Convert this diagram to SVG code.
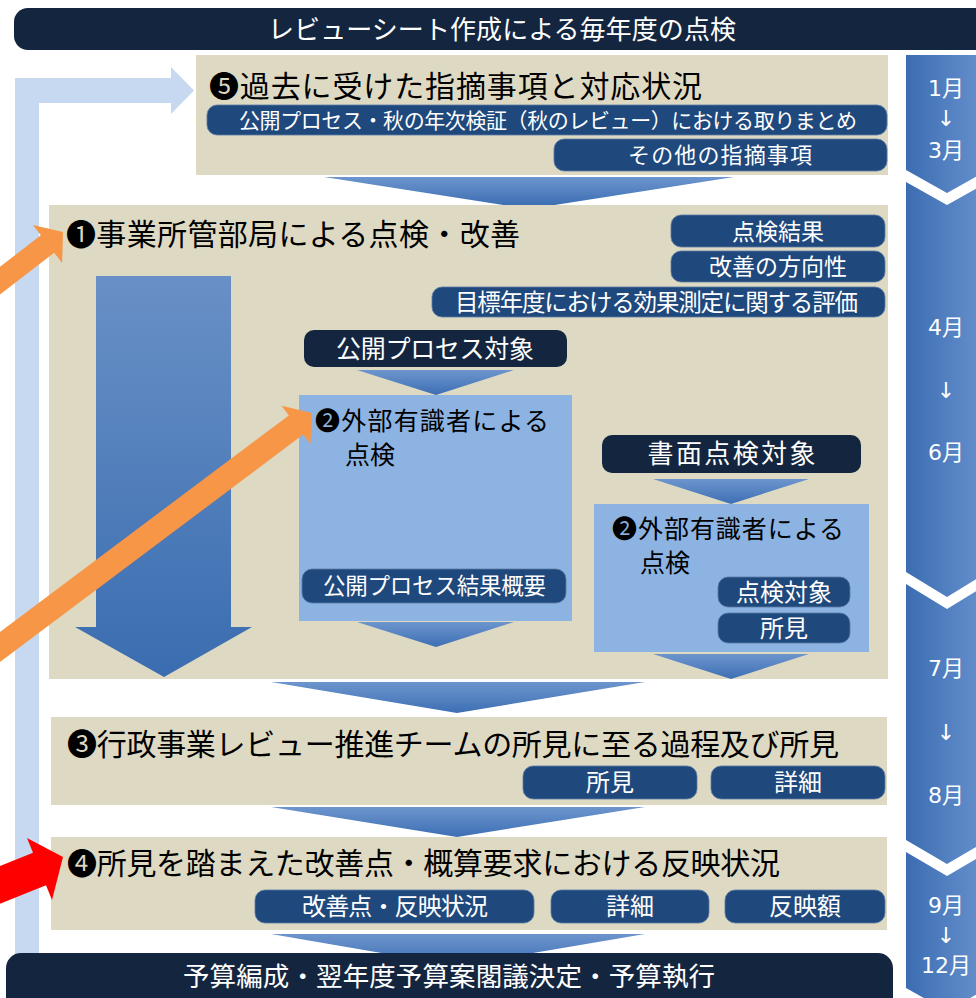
<svg xmlns="http://www.w3.org/2000/svg" width="976" height="998" viewBox="0 0 976 998">
<defs>
<linearGradient id="gChev" x1="0" y1="0" x2="0" y2="1"><stop offset="0" stop-color="#6d95cd"/><stop offset="1" stop-color="#3d6fb4"/></linearGradient>
<linearGradient id="gBig" x1="0" y1="0" x2="0" y2="1"><stop offset="0" stop-color="#6990c6"/><stop offset="1" stop-color="#3a6db0"/></linearGradient>
<linearGradient id="gTime" x1="0" y1="0" x2="1" y2="0"><stop offset="0" stop-color="#3c6db2"/><stop offset="1" stop-color="#6892ce"/></linearGradient>
<style>
.beige{fill:#ddd9c3}
.navy{fill:#14263f}
.pill{fill:#1f497d;stroke:#5b7aa5;stroke-width:0.8}
.lb{fill:#8db3e2}
.chev{fill:url(#gChev)}
.jp{font-family:"Noto Sans CJK JP","Noto Sans CJK SC",sans-serif}
.w{fill:#fff}
.k{fill:#000}
.c{text-anchor:middle}
.tl{font-family:"DejaVu Sans","Noto Sans CJK JP",sans-serif;font-size:22px;fill:#fff;text-anchor:middle}
.orange{fill:#f79646}
</style>
</defs>

<g id="header">
<rect class="navy" x="14" y="8" width="980" height="42" rx="14"/>
<text class="jp w c" x="502" y="38.5" font-size="26" textLength="468">レビューシート作成による毎年度の点検</text>
</g>

<g id="timeline">
<polygon fill="url(#gTime)" points="906,55 988,55 988,170 947,193 906,170"/>
<polygon fill="url(#gTime)" points="906,182 947,205 988,182 988,572 947,597 906,572"/>
<polygon fill="url(#gTime)" points="906,584 947,609 988,584 988,840 947,864 906,840"/>
<polygon fill="url(#gTime)" points="906,852 947,876 988,852 988,988 947,1011 906,988"/>
<text class="tl" x="946" y="96">1月</text>
<text class="tl" x="946" y="126">↓</text>
<text class="tl" x="946" y="158">3月</text>
<text class="tl" x="946" y="335">4月</text>
<text class="tl" x="946" y="398">↓</text>
<text class="tl" x="946" y="460">6月</text>
<text class="tl" x="946" y="676">7月</text>
<text class="tl" x="946" y="740">↓</text>
<text class="tl" x="946" y="803">8月</text>
<text class="tl" x="946" y="913">9月</text>
<text class="tl" x="946" y="943">↓</text>
<text class="tl" x="946" y="973">12月</text>
</g>

<g id="node5">
<rect class="beige" x="196" y="55" width="692" height="120"/>
<text class="jp k" x="209" y="96.5" font-size="30" textLength="493">❺過去に受けた指摘事項と対応状況</text>
<rect class="pill" x="207" y="105" width="680" height="30" rx="10"/>
<text class="jp w c" x="548" y="127.5" font-size="21" textLength="618">公開プロセス・秋の年次検証（秋のレビュー）における取りまとめ</text>
<rect class="pill" x="554" y="139" width="333" height="32" rx="10"/>
<text class="jp w c" x="720" y="163" font-size="22" textLength="184">その他の指摘事項</text>
</g>

<g id="node1">
<rect class="beige" x="49" y="205" width="839" height="474"/>
<text class="jp k" x="66" y="244.5" font-size="30" textLength="454">❶事業所管部局による点検・改善</text>
<rect class="pill" x="671" y="215" width="214" height="32" rx="10"/>
<text class="jp w c" x="778" y="239.5" font-size="23">点検結果</text>
<rect class="pill" x="671" y="251" width="214" height="31" rx="10"/>
<text class="jp w c" x="778" y="275" font-size="23">改善の方向性</text>
<rect class="pill" x="432" y="287" width="453" height="30" rx="10"/>
<text class="jp w c" x="656.5" y="310.5" font-size="23.5" textLength="403">目標年度における効果測定に関する評価</text>
</g>

<g id="node-public">
<rect class="navy" x="304" y="330" width="263" height="37" rx="10"/>
<text class="jp w c" x="435" y="357.5" font-size="25" textLength="198">公開プロセス対象</text>
</g>

<g id="node2a">
<rect class="lb" x="299" y="395" width="273" height="226"/>
<text class="jp k" x="315" y="430" font-size="25" textLength="234">❷外部有識者による</text>
<text class="jp k" x="345" y="464" font-size="25">点検</text>
<rect class="pill" x="302" y="569" width="264" height="34" rx="10"/>
<text class="jp w c" x="434.5" y="594" font-size="22.5" textLength="223">公開プロセス結果概要</text>
</g>

<g id="node-document">
<rect class="navy" x="602" y="435" width="259" height="38" rx="10"/>
<text class="jp w c" x="731.5" y="463.4" font-size="26" textLength="168">書面点検対象</text>
</g>

<g id="node2b">
<rect class="lb" x="594" y="504" width="275" height="148"/>
<text class="jp k" x="612" y="538" font-size="25" textLength="232">❷外部有識者による</text>
<text class="jp k" x="640" y="572" font-size="25">点検</text>
<rect class="pill" x="718" y="577" width="132" height="30" rx="10"/>
<text class="jp w c" x="784" y="600.6" font-size="24">点検対象</text>
<rect class="pill" x="718" y="613" width="132" height="30" rx="10"/>
<text class="jp w c" x="784" y="636.6" font-size="24">所見</text>
</g>

<g id="node3">
<rect class="beige" x="51" y="717" width="836" height="88"/>
<text class="jp k" x="67" y="754.5" font-size="30" textLength="772">❸行政事業レビュー推進チームの所見に至る過程及び所見</text>
<rect class="pill" x="523" y="766" width="174" height="33" rx="10"/>
<text class="jp w c" x="610" y="791" font-size="24">所見</text>
<rect class="pill" x="711" y="766" width="174" height="33" rx="10"/>
<text class="jp w c" x="798" y="791" font-size="24">詳細</text>
</g>

<g id="node4">
<rect class="beige" x="51" y="837" width="836" height="93"/>
<text class="jp k" x="67" y="874" font-size="30" textLength="713">❹所見を踏まえた改善点・概算要求における反映状況</text>
<rect class="pill" x="255" y="890" width="279" height="33" rx="10"/>
<text class="jp w c" x="395" y="915" font-size="24" textLength="186">改善点・反映状況</text>
<rect class="pill" x="551" y="890" width="158" height="33" rx="10"/>
<text class="jp w c" x="630" y="915" font-size="24">詳細</text>
<rect class="pill" x="725" y="890" width="160" height="33" rx="10"/>
<text class="jp w c" x="805" y="915" font-size="24">反映額</text>
</g>

<g id="connectors">
<polygon fill="#c6d9f1" points="15,990 15,78 171,78 171,67 194,90.5 171,114 171,103 39,103 39,990"/>
<polygon class="chev" points="324,177 734,177 554.6,205 503.4,205"/>
<polygon fill="url(#gBig)" points="96,276 231,276 231,627 252,627 164,677 75,627 96,627"/>
<polygon class="chev" points="357,370 514,370 436,395"/>
<polygon class="chev" points="357,622 514,622 436,647"/>
<polygon class="chev" points="653,479 809,479 731,504"/>
<polygon class="chev" points="653,654 809,654 731,679"/>
<polygon class="chev" points="271,682 645,682 457,713"/>
<polygon class="chev" points="271,807 645,807 457,837"/>
<polygon class="chev" points="271,934 645,934 457,966"/>
<polygon class="orange" points="-38.2,296.3 40.8,235.3 32.9,225 63,232 62.1,263 54.2,252.7 -24.8,313.7"/>
<polygon class="orange" points="-31.2,655.4 288.8,415.4 281.6,405.8 312,413 310.4,444.2 303.2,434.6 -16.8,674.6"/>
<polygon fill="#ff0000" points="-59.7,890.2 33,852.8 27,838 63,857 52,900 46,885.2 -46.7,922.6"/>
</g>

<g id="node-budget">
<rect class="navy" x="6" y="953" width="887" height="60" rx="15"/>
<text class="jp w c" x="449" y="986" font-size="26.5" textLength="532">予算編成・翌年度予算案閣議決定・予算執行</text>
</g>
</svg>
